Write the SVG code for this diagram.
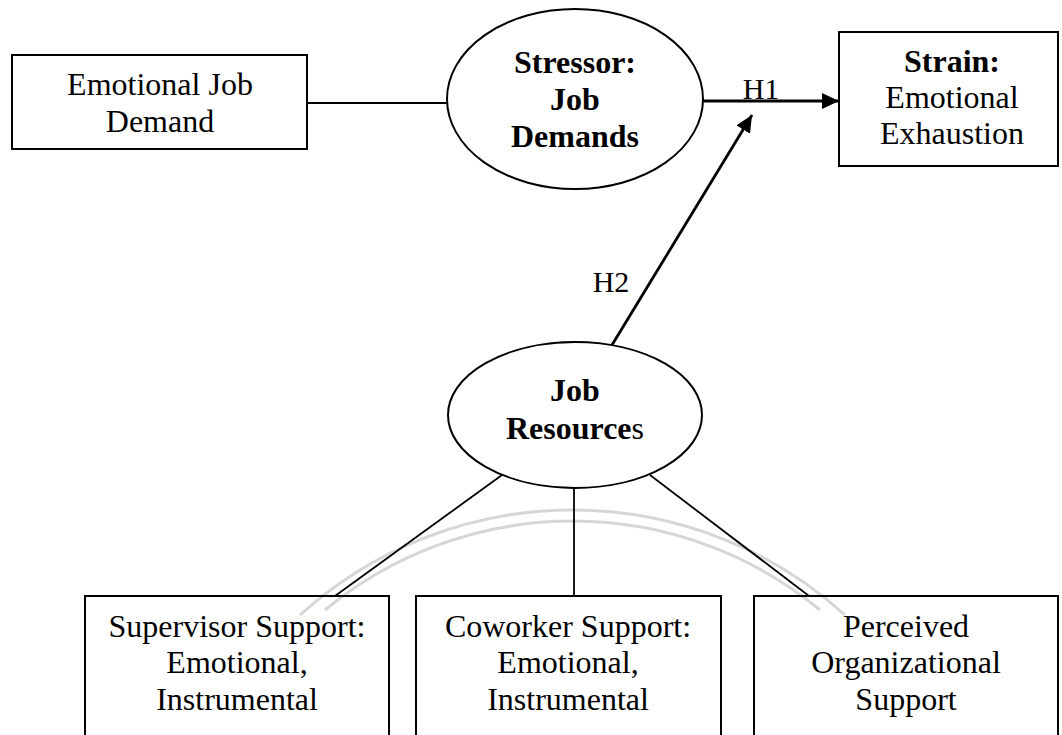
<svg xmlns="http://www.w3.org/2000/svg" width="1062" height="735" viewBox="0 0 1062 735">
<style>
text{font-family:"Liberation Serif","Times New Roman",serif;font-size:32px;fill:#000;text-anchor:middle}
.b{font-weight:bold}
.n{font-weight:normal}
.box{fill:none;stroke:#000;stroke-width:2}
.ell{fill:#fff;stroke:#000;stroke-width:2}
.ln{fill:none;stroke:#000;stroke-width:1.8}
.arr{fill:none;stroke:#000;stroke-width:2.8}
.wm{fill:none;stroke:#d6d6d6;stroke-width:3}
.lbl{font-size:30px}
</style>
<defs>
<marker id="ah" markerUnits="userSpaceOnUse" markerWidth="18" markerHeight="18" refX="17" refY="8" orient="auto">
<path d="M0,0 L17,8 L0,16 Z" fill="#000"/>
</marker>
</defs>
<rect width="1062" height="735" fill="#fff"/>
<g id="watermark">
<path class="wm" d="M300,615 A406,406 0 0 1 845,615"/>
<path class="wm" d="M325,610 A389,389 0 0 1 820,610"/>
</g>
<g id="connectors">
<line class="ln" x1="307" y1="103" x2="447" y2="103"/>
<line class="arr" x1="703" y1="101" x2="839" y2="101" marker-end="url(#ah)"/>
<line class="arr" x1="612" y1="345" x2="752" y2="115" marker-end="url(#ah)"/>
<line class="ln" x1="502" y1="475" x2="335" y2="596"/>
<line class="ln" x1="574" y1="488" x2="574" y2="596"/>
<line class="ln" x1="650" y1="475" x2="809" y2="596"/>
<text class="lbl" x="761" y="99">H1</text>
<text class="lbl" x="611" y="292">H2</text>
</g>
<g id="emotional-job-demand">
<rect class="box" x="12" y="55" width="295" height="94"/>
<text x="160" y="95">Emotional Job</text>
<text x="160" y="132">Demand</text>
</g>
<g id="stressor">
<ellipse class="ell" cx="575" cy="99" rx="128" ry="90"/>
<text class="b" x="575" y="73">Stressor:</text>
<text class="b" x="575" y="110">Job</text>
<text class="b" x="575" y="147">Demands</text>
</g>
<g id="strain">
<rect class="box" x="839" y="32" width="219" height="134"/>
<text class="b" x="952" y="72">Strain:</text>
<text x="952" y="108">Emotional</text>
<text x="952" y="144">Exhaustion</text>
</g>
<g id="job-resources">
<ellipse class="ell" cx="575" cy="415" rx="127" ry="73"/>
<text class="b" x="575" y="401">Job</text>
<text class="b" x="575" y="439">Resource<tspan class="n">s</tspan></text>
</g>
<g id="supervisor-support">
<rect class="box" x="85" y="596" width="304" height="150"/>
<text x="237" y="637">Supervisor Support:</text>
<text x="237" y="673">Emotional,</text>
<text x="237" y="710">Instrumental</text>
</g>
<g id="coworker-support">
<rect class="box" x="416" y="596" width="305" height="150"/>
<text x="568" y="637">Coworker Support:</text>
<text x="568" y="673">Emotional,</text>
<text x="568" y="710">Instrumental</text>
</g>
<g id="perceived-organizational-support">
<rect class="box" x="754" y="596" width="304" height="150"/>
<text x="906" y="637">Perceived</text>
<text x="906" y="673">Organizational</text>
<text x="906" y="710">Support</text>
</g>
</svg>
